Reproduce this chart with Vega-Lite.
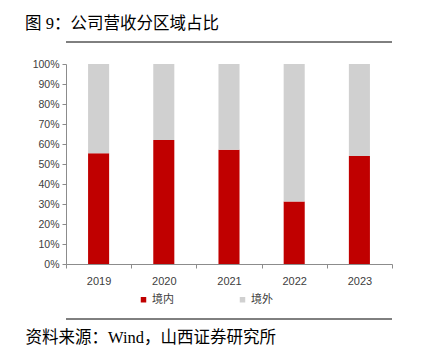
{
  "$schema": "https://vega.github.io/schema/vega-lite/v6.json",
  "padding": {"left": 15, "top": 15, "right": 0, "bottom": 0},
  "background": "white",
  "width": 326,
  "height": 200,
  "title": {"text": "图 9：公司营收分区域占比", "anchor": "start", "frame": "group", "fontSize": 16.5, "font": "Liberation Serif, Noto Sans CJK SC", "fontWeight": "normal", "offset": 9, "color": "#000000", "dx": -41},
  "config": {"view": {"stroke": null}, "font": "Liberation Sans"},
  "layer": [
    {
      "data": {"values": [
        {"year": "2019", "region": "境内", "value": 55.4},
        {"year": "2019", "region": "境外", "value": 44.6},
        {"year": "2020", "region": "境内", "value": 62.0},
        {"year": "2020", "region": "境外", "value": 38.0},
        {"year": "2021", "region": "境内", "value": 57.1},
        {"year": "2021", "region": "境外", "value": 42.9},
        {"year": "2022", "region": "境内", "value": 31.2},
        {"year": "2022", "region": "境外", "value": 68.8},
        {"year": "2023", "region": "境内", "value": 54.0},
        {"year": "2023", "region": "境外", "value": 46.0}
      ]},
      "mark": {"type": "bar", "width": {"band": 0.323}},
      "encoding": {
        "x": {"field": "year", "type": "ordinal", "scale": {"paddingInner": 0, "paddingOuter": 0},
          "axis": {"title": "资料来源：Wind，山西证券研究所", "titleX": -41, "titleY": 73, "titleAlign": "left", "titleBaseline": "middle", "titleFontSize": 16.5, "titleFont": "Liberation Serif, Noto Sans CJK SC", "titleFontWeight": "normal", "titleColor": "#000000",
            "labelAngle": 0, "tickBand": "extent", "tickSize": 4, "tickColor": "#8c8c8c", "domainColor": "#8c8c8c", "labelFontSize": 11, "labelColor": "#404040", "labelPadding": 7}},
        "y": {"field": "value", "type": "quantitative", "stack": "zero", "scale": {"domain": [0, 100]},
          "axis": {"title": null, "grid": false, "values": [0,10,20,30,40,50,60,70,80,90,100], "labelExpr": "datum.value + '%'", "tickSize": 4, "tickColor": "#8c8c8c", "domainColor": "#8c8c8c", "labelFontSize": 10.5, "labelColor": "#404040", "labelPadding": 3, "minExtent": 51}},
        "color": {"field": "region", "type": "nominal", "sort": ["境内", "境外"],
          "scale": {"domain": ["境内", "境外"], "range": ["#C00000", "#D0D0D0"]},
          "legend": {"title": null, "orient": "none", "direction": "horizontal", "legendX": 72, "legendY": 230, "padding": 0, "symbolType": "square", "symbolSize": 30, "symbolStrokeWidth": 0, "labelFontSize": 11, "labelColor": "#404040", "labelOffset": 3, "columnPadding": 63, "labelFont": "Noto Sans CJK SC"}},
        "order": {"field": "region", "sort": "ascending"}
      }
    },
    {
      "data": {"values": [{"line": "header", "pos": 111}, {"line": "footer", "pos": -27.5}]},
      "mark": {"type": "rule", "color": "#000000", "strokeWidth": 1},
      "encoding": {
        "y": {"field": "pos", "type": "quantitative", "scale": {"domain": [0, 100]},
          "axis": {"title": null, "grid": false, "values": [0,10,20,30,40,50,60,70,80,90,100], "labelExpr": "datum.value + '%'", "tickSize": 4, "tickColor": "#8c8c8c", "domainColor": "#8c8c8c", "labelFontSize": 10.5, "labelColor": "#404040", "labelPadding": 3, "minExtent": 51}}
      }
    }
  ]
}
